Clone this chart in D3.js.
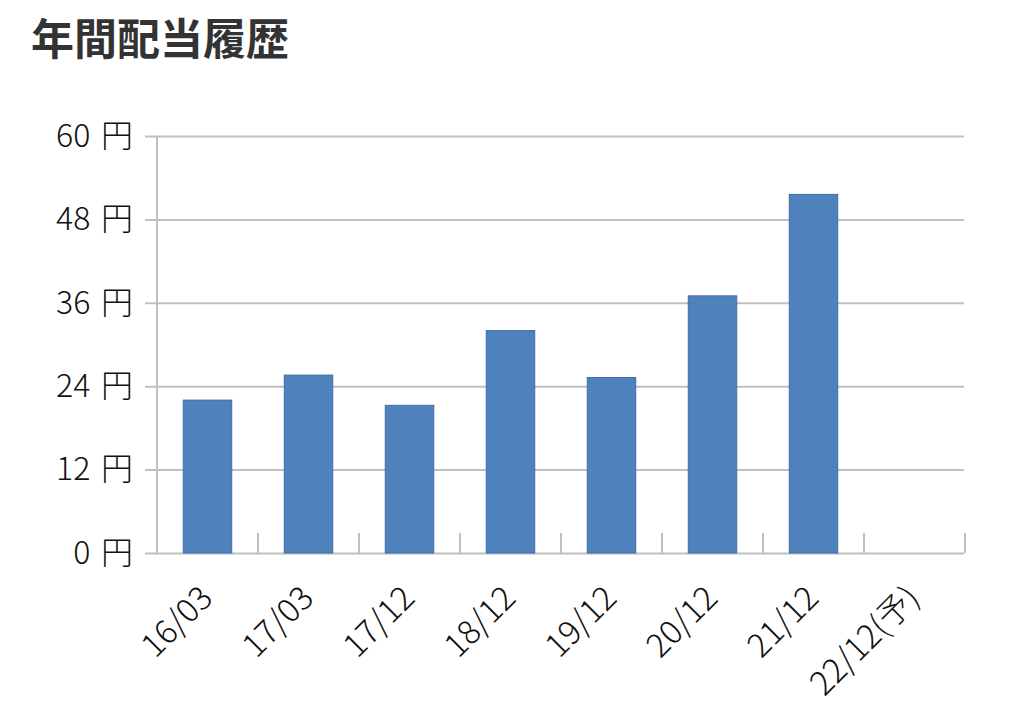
<!DOCTYPE html>
<html>

<head>
  <meta charset="UTF-8">
  <script src="https://d3js.org/d3.v7.js"></script>
  <style>
    body { margin: 0; background: #fff; }
    text { font-family: "Noto Sans CJK JP", "Noto Sans", sans-serif; }
  </style>
</head>

<body>
  <div id="chart"></div>

  <script>
    // data

    const periods = ["16/03", "17/03", "17/12", "18/12", "19/12", "20/12", "21/12", "22/12(予)"];
    const dividends = [22, 25.6, 21.25, 32, 25.25, 37, 51.6, null];
    const yTicks = [0, 12, 24, 36, 48, 60];

    // set up

    const W = 1024, H = 713;
    const plotLeft = 157, plotRight = 965, plotTop = 136, plotBottom = 553;

    const svg = d3.select('#chart')
      .append('svg')
        .attr('width', W)
        .attr('height', H);

    svg.append('text')
        .attr('x', 31)
        .attr('y', 55)
        .attr('font-size', 43)
        .attr('font-weight', 'bold')
        .attr('fill', '#333')
        .text('年間配当履歴');

    // scales

    const x = d3.scaleBand()
        .domain(periods)
        .range([plotLeft, plotRight])
        .paddingInner(0.52)
        .paddingOuter(0.26);

    const y = d3.scaleLinear()
        .domain([0, 60])
        .range([plotBottom, plotTop]);

    const step = x.step();

    // grid + y axis

    svg.append('g')
        .attr('transform', `translate(145,0)`)
        .call(d3.axisLeft(y).tickValues(yTicks).tickSize(-(plotRight - 1 - 145)).tickPadding(12)
          .tickFormat(d => d + '\u2004円'))
        .call(g => g.select('.domain').remove())
        .call(g => g.selectAll('line').attr('stroke', '#c0c0c0').attr('stroke-width', 2))
        .call(g => g.selectAll('text')
          .attr('font-size', 32)
          .attr('font-weight', 300)
          .attr('fill', '#111')
          .style('font-family', '"Noto Sans CJK JP", sans-serif'));

    svg.append('line')
        .attr('x1', plotLeft).attr('x2', plotLeft)
        .attr('y1', plotTop).attr('y2', plotBottom)
        .attr('stroke', '#c0c0c0')
        .attr('stroke-width', 2);

    // category ticks (band boundaries)
    const bounds = periods.map(d => x(d) + x.bandwidth() / 2 + step / 2);
    svg.append('g')
      .selectAll('line')
      .data(bounds)
      .join('line')
        .attr('x1', d => d).attr('x2', d => d)
        .attr('y1', plotBottom - 20).attr('y2', plotBottom)
        .attr('stroke', '#c0c0c0')
        .attr('stroke-width', 2);

    // bars

    svg.append('g')
      .selectAll('rect')
      .data(periods.map((p, i) => ({ p, v: dividends[i] })).filter(d => d.v != null))
      .join('rect')
        .attr('x', d => x(d.p))
        .attr('y', d => y(d.v))
        .attr('width', x.bandwidth())
        .attr('height', d => y(0) - y(d.v))
        .attr('fill', '#4f81bd')
        .attr('stroke', '#3f6fa8')
        .attr('stroke-width', 1);

    // x labels

    svg.append('g')
      .selectAll('text')
      .data(periods)
      .join('text')
        .attr('transform', d => `translate(${x(d) + x.bandwidth() / 2 + 7},600) rotate(-45)`)
        .attr('text-anchor', 'end')
        .attr('font-size', 33)
        .attr('font-weight', 300)
        .attr('fill', '#111')
        .text(d => d);
  </script>
</body>

</html>
